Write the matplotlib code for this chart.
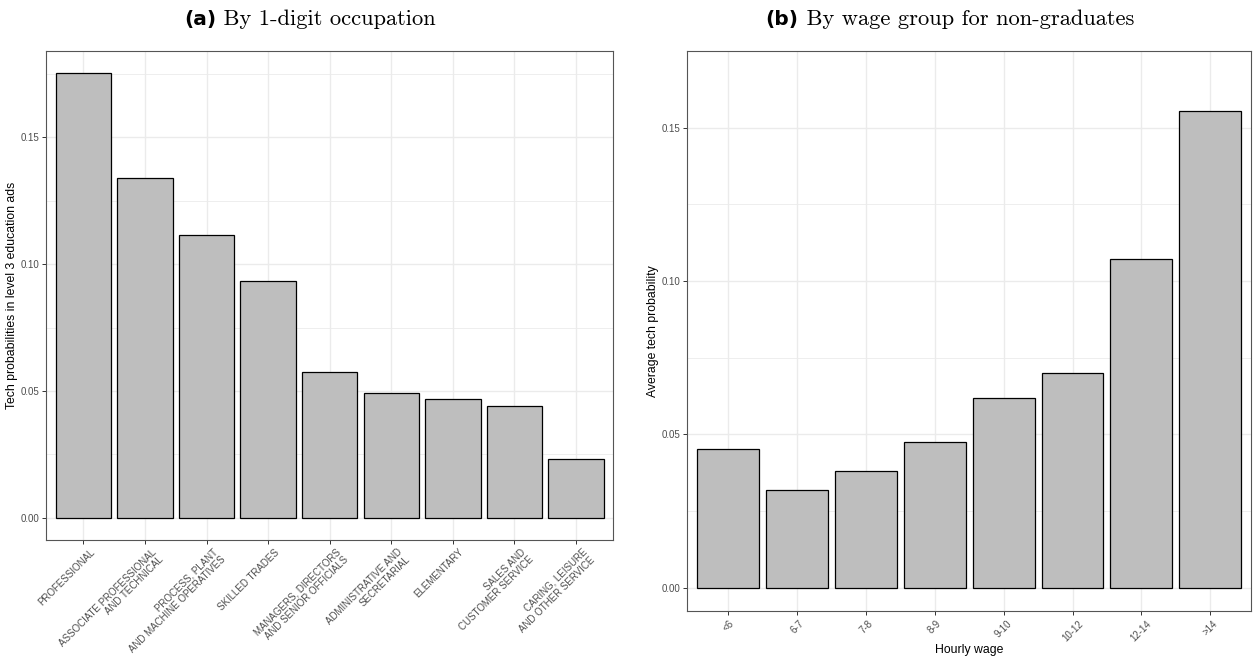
import numpy as np
import matplotlib
matplotlib.use('Agg')
import matplotlib.pyplot as plt
import matplotlib.transforms as mtransforms

occupations = ['PROFESSIONAL', 'ASSOCIATE PROFESSIONAL\nAND TECHNICAL',
               'PROCESS, PLANT\nAND MACHINE OPERATIVES', 'SKILLED TRADES',
               'MANAGERS, DIRECTORS\nAND SENIOR OFFICIALS', 'ADMINISTRATIVE AND\nSECRETARIAL',
               'ELEMENTARY', 'SALES AND\nCUSTOMER SERVICE', 'CARING, LEISURE\nAND OTHER SERVICE']
occ_prob = [0.1753, 0.1339, 0.1117, 0.0933, 0.0574, 0.0491, 0.0467, 0.0442, 0.0233]

wage_groups = ['<6', '6-7', '7-8', '8-9', '9-10', '10-12', '12-14', '>14']
wage_prob = [0.0451, 0.0320, 0.0381, 0.0474, 0.0617, 0.0701, 0.1072, 0.1553]

y_ticks = [0.00, 0.05, 0.10, 0.15]
y_minor = [0.025, 0.075, 0.125, 0.175]

SANS = 'Liberation Sans'
GRID = '#EBEBEB'
DARK = '#333333'
TICKLAB = '#4D4D4D'


def style_axes(ax, n, vals):
    ax.set_xlim(-0.6, n - 0.4)
    top = max(vals)
    ax.set_ylim(-0.05 * top, 1.05 * top)
    ax.set_yticks(y_ticks)
    ax.set_yticklabels([f'{t:.2f}' for t in y_ticks], family=SANS, fontsize=7, color=TICKLAB)
    ax.set_yticks(y_minor, minor=True)
    ax.tick_params(axis='y', which='minor', length=0)
    ax.tick_params(axis='both', which='major', length=3, width=0.7, color=DARK, pad=2)
    ax.set_axisbelow(True)
    ax.grid(True, which='major', color=GRID, lw=1.0)
    ax.grid(True, which='minor', axis='y', color=GRID, lw=0.6)
    for s in ax.spines.values():
        s.set_color('#555555')
        s.set_linewidth(0.8)


fig = plt.figure(figsize=(12.53, 6.58), dpi=100)

# (a) occupations
ax1 = fig.add_axes([0.0371, 0.1793, 0.4521, 0.7432])
x1 = np.arange(len(occupations))
ax1.bar(x1, occ_prob, width=0.9, color='#BEBEBE', edgecolor='black', linewidth=0.9)
style_axes(ax1, len(occupations), occ_prob)
ax1.set_xticks(x1)
ax1.set_xticklabels(occupations, rotation=45, ha='right', va='top', rotation_mode='anchor',
                    multialignment='right', family=SANS, fontsize=7, color=TICKLAB,
                    linespacing=1.1)
shift = mtransforms.ScaledTranslation(6 / 100, 0, fig.dpi_scale_trans)
for lab in ax1.get_xticklabels():
    lab.set_transform(lab.get_transform() + shift)
ax1.set_ylabel('Tech probabilities in level 3 education ads', family=SANS, fontsize=8.8, labelpad=2)

# (b) wage groups
ax2 = fig.add_axes([0.5483, 0.0707, 0.4505, 0.8518])
x2 = np.arange(len(wage_groups))
ax2.bar(x2, wage_prob, width=0.9, color='#BEBEBE', edgecolor='black', linewidth=0.9)
style_axes(ax2, len(wage_groups), wage_prob)
ax2.set_xticks(x2)
ax2.set_xticklabels(wage_groups, rotation=45, ha='center', va='top', family=SANS,
                    fontsize=7, color=TICKLAB)
ax2.set_ylabel('Average tech probability', family=SANS, fontsize=8.8, labelpad=2)
ax2.set_xlabel('Hourly wage', family=SANS, fontsize=8.8, labelpad=1)

# panel titles: bold sans tag + serif caption
for xc, tag, cap in [(0.2475, '(a)', 'By 1-digit occupation'),
                     (0.758, '(b)', 'By wage group for non-graduates')]:
    t1 = fig.text(0, 0.971, tag, family='DejaVu Sans', weight='bold', fontsize=14.5,
                  ha='left', va='center')
    t2 = fig.text(0, 0.971, ' ' + cap, family='cmr10', fontsize=16.2, ha='left', va='center')
    fig.canvas.draw()
    r = fig.canvas.get_renderer()
    w1 = t1.get_window_extent(r).width / fig.bbox.width
    w2 = t2.get_window_extent(r).width / fig.bbox.width
    x0 = xc - (w1 + w2) / 2
    t1.set_x(x0)
    t2.set_x(x0 + w1)

fig.savefig('out.png', dpi=100)
